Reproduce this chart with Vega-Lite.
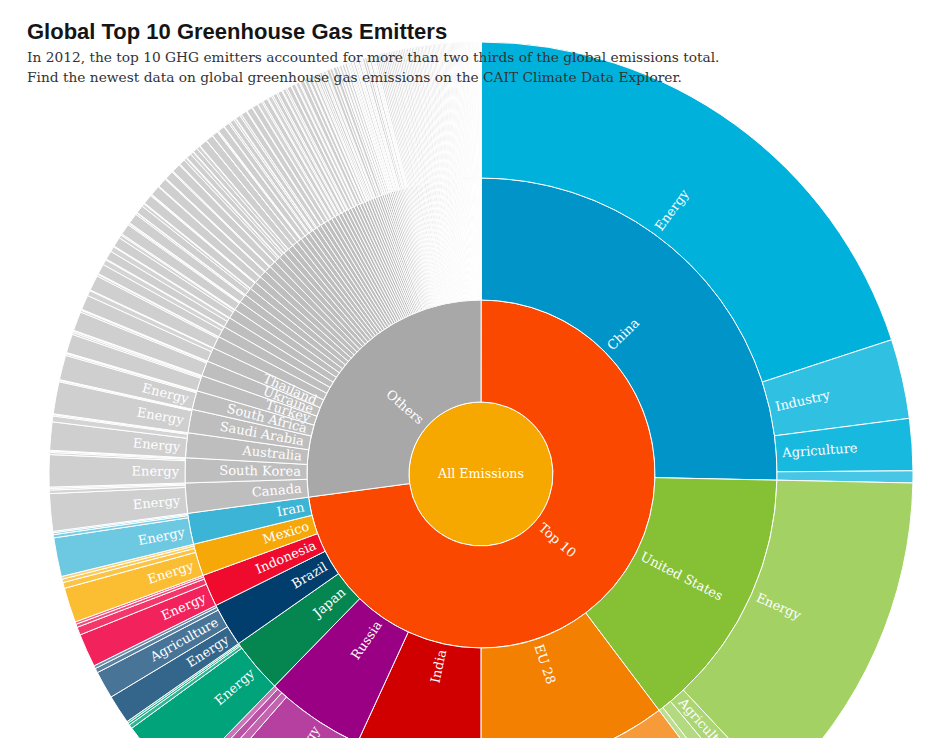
{
"$schema": "https://vega.github.io/schema/vega-lite/v6.json",
"autosize": {"type": "none"},
"width": 920,
"height": 528,
"padding": {"left": 21, "top": 210, "right": 0, "bottom": 0},
"background": "white",
"title": {
  "text": "Global Top 10 Greenhouse Gas Emitters",
  "subtitle": ["In 2012, the top 10 GHG emitters accounted for more than two thirds of the global emissions total.", "Find the newest data on global greenhouse gas emissions on the CAIT Climate Data Explorer."],
  "anchor": "start", "frame": "group", "offset": -46, "dx": 6,
  "font": "Liberation Sans", "fontSize": 22, "fontWeight": "bold", "color": "#151515",
  "subtitleFont": "DejaVu Serif", "subtitleFontSize": 13.75, "subtitleColor": "#333333",
  "subtitleLineHeight": 20, "subtitlePadding": 7
},
"datasets": {"emissions": [
{"group":"Top 10","country":"China","sector":"Energy","value":19.97},
{"group":"Top 10","country":"China","sector":"Industry","value":2.97},
{"group":"Top 10","country":"China","sector":"Agriculture","value":1.94},
{"group":"Top 10","country":"China","sector":"Waste","value":0.45},
{"group":"Top 10","country":"United States","sector":"Energy","value":12.69},
{"group":"Top 10","country":"United States","sector":"Agriculture","value":0.92},
{"group":"Top 10","country":"United States","sector":"Industry","value":0.53},
{"group":"Top 10","country":"United States","sector":"Waste","value":0.25},
{"group":"Top 10","country":"EU 28","sector":"Energy","value":8.3},
{"group":"Top 10","country":"EU 28","sector":"Agriculture","value":1.0},
{"group":"Top 10","country":"EU 28","sector":"Industry","value":0.6},
{"group":"Top 10","country":"EU 28","sector":"Waste","value":0.38},
{"group":"Top 10","country":"India","sector":"Energy","value":4.9},
{"group":"Top 10","country":"India","sector":"Agriculture","value":1.55},
{"group":"Top 10","country":"India","sector":"Industry","value":0.23},
{"group":"Top 10","country":"India","sector":"Waste","value":0.18},
{"group":"Top 10","country":"Russia","sector":"Energy","value":4.55},
{"group":"Top 10","country":"Russia","sector":"Industry","value":0.34},
{"group":"Top 10","country":"Russia","sector":"Agriculture","value":0.3},
{"group":"Top 10","country":"Russia","sector":"Waste","value":0.23},
{"group":"Top 10","country":"Japan","sector":"Energy","value":2.7},
{"group":"Top 10","country":"Japan","sector":"Industry","value":0.15},
{"group":"Top 10","country":"Japan","sector":"Agriculture","value":0.08},
{"group":"Top 10","country":"Japan","sector":"Waste","value":0.07},
{"group":"Top 10","country":"Brazil","sector":"Energy","value":1.08},
{"group":"Top 10","country":"Brazil","sector":"Agriculture","value":1.03},
{"group":"Top 10","country":"Brazil","sector":"Industry","value":0.17},
{"group":"Top 10","country":"Brazil","sector":"Waste","value":0.11},
{"group":"Top 10","country":"Indonesia","sector":"Energy","value":1.25},
{"group":"Top 10","country":"Indonesia","sector":"Agriculture","value":0.3},
{"group":"Top 10","country":"Indonesia","sector":"Industry","value":0.12},
{"group":"Top 10","country":"Indonesia","sector":"Waste","value":0.09},
{"group":"Top 10","country":"Mexico","sector":"Energy","value":1.3},
{"group":"Top 10","country":"Mexico","sector":"Agriculture","value":0.22},
{"group":"Top 10","country":"Mexico","sector":"Industry","value":0.13},
{"group":"Top 10","country":"Mexico","sector":"Waste","value":0.1},
{"group":"Top 10","country":"Iran","sector":"Energy","value":1.45},
{"group":"Top 10","country":"Iran","sector":"Agriculture","value":0.12},
{"group":"Top 10","country":"Iran","sector":"Industry","value":0.07},
{"group":"Top 10","country":"Iran","sector":"Waste","value":0.05},
{"group":"Others","country":"Canada","sector":"Energy","value":1.4},
{"group":"Others","country":"Canada","sector":"Agriculture","value":0.13},
{"group":"Others","country":"Canada","sector":"Industry","value":0.06},
{"group":"Others","country":"Canada","sector":"Waste","value":0.05},
{"group":"Others","country":"South Korea","sector":"Energy","value":1.2},
{"group":"Others","country":"South Korea","sector":"Industry","value":0.08},
{"group":"Others","country":"South Korea","sector":"Agriculture","value":0.05},
{"group":"Others","country":"South Korea","sector":"Waste","value":0.03},
{"group":"Others","country":"Australia","sector":"Energy","value":1.05},
{"group":"Others","country":"Australia","sector":"Agriculture","value":0.22},
{"group":"Others","country":"Australia","sector":"Industry","value":0.05},
{"group":"Others","country":"Australia","sector":"Waste","value":0.03},
{"group":"Others","country":"Saudi Arabia","sector":"Energy","value":1.2},
{"group":"Others","country":"Saudi Arabia","sector":"Industry","value":0.05},
{"group":"Others","country":"Saudi Arabia","sector":"Waste","value":0.02},
{"group":"Others","country":"Saudi Arabia","sector":"Agriculture","value":0.01},
{"group":"Others","country":"South Africa","sector":"Energy","value":0.92},
{"group":"Others","country":"South Africa","sector":"Agriculture","value":0.06},
{"group":"Others","country":"South Africa","sector":"Industry","value":0.03},
{"group":"Others","country":"South Africa","sector":"Waste","value":0.02},
{"group":"Others","country":"Turkey","sector":"Energy","value":0.7},
{"group":"Others","country":"Turkey","sector":"Agriculture","value":0.07},
{"group":"Others","country":"Turkey","sector":"Industry","value":0.06},
{"group":"Others","country":"Turkey","sector":"Waste","value":0.03},
{"group":"Others","country":"Ukraine","sector":"Energy","value":0.72},
{"group":"Others","country":"Ukraine","sector":"Agriculture","value":0.07},
{"group":"Others","country":"Ukraine","sector":"Industry","value":0.02},
{"group":"Others","country":"Ukraine","sector":"Waste","value":0.02},
{"group":"Others","country":"Thailand","sector":"Energy","value":0.55},
{"group":"Others","country":"Thailand","sector":"Agriculture","value":0.2},
{"group":"Others","country":"Thailand","sector":"Industry","value":0.02},
{"group":"Others","country":"Thailand","sector":"Waste","value":0.01},
{"group":"Others","country":"Kazakhstan","sector":"Energy","value":0.57},
{"group":"Others","country":"Kazakhstan","sector":"Agriculture","value":0.07},
{"group":"Others","country":"Kazakhstan","sector":"Industry","value":0.03},
{"group":"Others","country":"Argentina","sector":"Energy","value":0.38},
{"group":"Others","country":"Argentina","sector":"Agriculture","value":0.2},
{"group":"Others","country":"Argentina","sector":"Industry","value":0.03},
{"group":"Others","country":"Pakistan","sector":"Energy","value":0.33},
{"group":"Others","country":"Pakistan","sector":"Agriculture","value":0.2},
{"group":"Others","country":"Pakistan","sector":"Industry","value":0.03},
{"group":"Others","country":"Nigeria","sector":"Energy","value":0.36},
{"group":"Others","country":"Nigeria","sector":"Agriculture","value":0.12},
{"group":"Others","country":"Nigeria","sector":"Waste","value":0.05},
{"group":"Others","country":"Egypt","sector":"Energy","value":0.41},
{"group":"Others","country":"Egypt","sector":"Agriculture","value":0.05},
{"group":"Others","country":"Egypt","sector":"Industry","value":0.04},
{"group":"Others","country":"Venezuela","sector":"Energy","value":0.39},
{"group":"Others","country":"Venezuela","sector":"Agriculture","value":0.06},
{"group":"Others","country":"Venezuela","sector":"Industry","value":0.02},
{"group":"Others","country":"Vietnam","sector":"Energy","value":0.3},
{"group":"Others","country":"Vietnam","sector":"Agriculture","value":0.11},
{"group":"Others","country":"Vietnam","sector":"Industry","value":0.03},
{"group":"Others","country":"Malaysia","sector":"Energy","value":0.36},
{"group":"Others","country":"Malaysia","sector":"Agriculture","value":0.03},
{"group":"Others","country":"Malaysia","sector":"Industry","value":0.03},
{"group":"Others","country":"United Arab Emirates","sector":"Energy","value":0.37},
{"group":"Others","country":"United Arab Emirates","sector":"Industry","value":0.02},
{"group":"Others","country":"United Arab Emirates","sector":"Waste","value":0.01},
{"group":"Others","country":"Algeria","sector":"Energy","value":0.35},
{"group":"Others","country":"Algeria","sector":"Agriculture","value":0.03},
{"group":"Others","country":"Algeria","sector":"Industry","value":0.01},
{"group":"Others","country":"Uzbekistan","sector":"Energy","value":0.32},
{"group":"Others","country":"Uzbekistan","sector":"Agriculture","value":0.04},
{"group":"Others","country":"Uzbekistan","sector":"Industry","value":0.01},
{"group":"Others","country":"Iraq","sector":"Energy","value":0.33},
{"group":"Others","country":"Iraq","sector":"Agriculture","value":0.02},
{"group":"Others","country":"Iraq","sector":"Industry","value":0.01},
{"group":"Others","country":"Philippines","sector":"Energy","value":0.22},
{"group":"Others","country":"Philippines","sector":"Agriculture","value":0.1},
{"group":"Others","country":"Philippines","sector":"Industry","value":0.03},
{"group":"Others","country":"Colombia","sector":"Energy","value":0.19},
{"group":"Others","country":"Colombia","sector":"Agriculture","value":0.12},
{"group":"Others","country":"Colombia","sector":"Industry","value":0.02},
{"group":"Others","country":"Bangladesh","sector":"Energy","value":0.17},
{"group":"Others","country":"Bangladesh","sector":"Agriculture","value":0.13},
{"group":"Others","country":"Bangladesh","sector":"Industry","value":0.02},
{"group":"Others","country":"Kuwait","sector":"Energy","value":0.3},
{"group":"Others","country":"Kuwait","sector":"Industry","value":0.01},
{"group":"Others","country":"Qatar","sector":"Energy","value":0.28},
{"group":"Others","country":"Qatar","sector":"Industry","value":0.01},
{"group":"Others","country":"Chile","sector":"Energy","value":0.22},
{"group":"Others","country":"Chile","sector":"Agriculture","value":0.04},
{"group":"Others","country":"Chile","sector":"Industry","value":0.02},
{"group":"Others","country":"Turkmenistan","sector":"Energy","value":0.25},
{"group":"Others","country":"Turkmenistan","sector":"Agriculture","value":0.02},
{"group":"Others","country":"Peru","sector":"Energy","value":0.17},
{"group":"Others","country":"Peru","sector":"Agriculture","value":0.07},
{"group":"Others","country":"Peru","sector":"Industry","value":0.02},
{"group":"Others","country":"Belarus","sector":"Energy","value":0.2},
{"group":"Others","country":"Belarus","sector":"Agriculture","value":0.06},
{"group":"Others","country":"Morocco","sector":"Energy","value":0.18},
{"group":"Others","country":"Morocco","sector":"Agriculture","value":0.07},
{"group":"Others","country":"Israel","sector":"Energy","value":0.21},
{"group":"Others","country":"Israel","sector":"Agriculture","value":0.03},
{"group":"Others","country":"Oman","sector":"Energy","value":0.22},
{"group":"Others","country":"Oman","sector":"Agriculture","value":0.02},
{"group":"Others","country":"Libya","sector":"Energy","value":0.21},
{"group":"Others","country":"Libya","sector":"Agriculture","value":0.02},
{"group":"Others","country":"Syria","sector":"Energy","value":0.18},
{"group":"Others","country":"Syria","sector":"Agriculture","value":0.04},
{"group":"Others","country":"Ethiopia","sector":"Agriculture","value":0.17},
{"group":"Others","country":"Ethiopia","sector":"Energy","value":0.05},
{"group":"Others","country":"Myanmar","sector":"Agriculture","value":0.15},
{"group":"Others","country":"Myanmar","sector":"Energy","value":0.06},
{"group":"Others","country":"Ecuador","sector":"Energy","value":0.14},
{"group":"Others","country":"Ecuador","sector":"Agriculture","value":0.06},
{"group":"Others","country":"Sudan","sector":"Agriculture","value":0.13},
{"group":"Others","country":"Sudan","sector":"Energy","value":0.06},
{"group":"Others","country":"Serbia","sector":"Energy","value":0.16},
{"group":"Others","country":"Serbia","sector":"Agriculture","value":0.03},
{"group":"Others","country":"Azerbaijan","sector":"Energy","value":0.16},
{"group":"Others","country":"Azerbaijan","sector":"Agriculture","value":0.02},
{"group":"Others","country":"North Korea","sector":"Energy","value":0.15},
{"group":"Others","country":"North Korea","sector":"Agriculture","value":0.03},
{"group":"Others","country":"Tanzania","sector":"Agriculture","value":0.13},
{"group":"Others","country":"Tanzania","sector":"Energy","value":0.04},
{"group":"Others","country":"Trinidad and Tobago","sector":"Energy","value":0.16},
{"group":"Others","country":"Trinidad and Tobago","sector":"Industry","value":0.01},
{"group":"Others","country":"Switzerland","sector":"Energy","value":0.13},
{"group":"Others","country":"Switzerland","sector":"Agriculture","value":0.03},
{"group":"Others","country":"Norway","sector":"Energy","value":0.13},
{"group":"Others","country":"Norway","sector":"Agriculture","value":0.03},
{"group":"Others","country":"Bolivia","sector":"Agriculture","value":0.1},
{"group":"Others","country":"Bolivia","sector":"Energy","value":0.05},
{"group":"Others","country":"New Zealand","sector":"Agriculture","value":0.08},
{"group":"Others","country":"New Zealand","sector":"Energy","value":0.07},
{"group":"Others","country":"Angola","sector":"Energy","value":0.09},
{"group":"Others","country":"Angola","sector":"Agriculture","value":0.05},
{"group":"Others","country":"Singapore","sector":"Energy","value":0.13},
{"group":"Others","country":"Kenya","sector":"Agriculture","value":0.09},
{"group":"Others","country":"Kenya","sector":"Energy","value":0.04},
{"group":"Others","country":"Tunisia","sector":"Energy","value":0.1},
{"group":"Others","country":"Tunisia","sector":"Agriculture","value":0.03},
{"group":"Others","country":"Cuba","sector":"Energy","value":0.09},
{"group":"Others","country":"Cuba","sector":"Agriculture","value":0.03},
{"group":"Others","country":"Bahrain","sector":"Energy","value":0.12},
{"group":"Others","country":"DR Congo","sector":"Agriculture","value":0.09},
{"group":"Others","country":"DR Congo","sector":"Energy","value":0.02},
{"group":"Others","country":"Uganda","sector":"Agriculture","value":0.09},
{"group":"Others","country":"Uganda","sector":"Energy","value":0.02},
{"group":"Others","country":"Yemen","sector":"Energy","value":0.08},
{"group":"Others","country":"Yemen","sector":"Agriculture","value":0.03},
{"group":"Others","country":"Mongolia","sector":"Energy","value":0.05},
{"group":"Others","country":"Mongolia","sector":"Agriculture","value":0.05},
{"group":"Others","country":"Sri Lanka","sector":"Energy","value":0.06},
{"group":"Others","country":"Sri Lanka","sector":"Agriculture","value":0.04},
{"group":"Others","country":"Paraguay","sector":"Agriculture","value":0.075},
{"group":"Others","country":"Paraguay","sector":"Energy","value":0.02},
{"group":"Others","country":"Zimbabwe","sector":"Energy","value":0.05},
{"group":"Others","country":"Zimbabwe","sector":"Agriculture","value":0.042},
{"group":"Others","country":"Dominican Republic","sector":"Energy","value":0.07},
{"group":"Others","country":"Dominican Republic","sector":"Agriculture","value":0.02},
{"group":"Others","country":"Guatemala","sector":"Energy","value":0.05},
{"group":"Others","country":"Guatemala","sector":"Agriculture","value":0.037},
{"group":"Others","country":"Bosnia and Herzegovina","sector":"Energy","value":0.084},
{"group":"Others","country":"Jordan","sector":"Energy","value":0.08},
{"group":"Others","country":"Cameroon","sector":"Agriculture","value":0.048},
{"group":"Others","country":"Cameroon","sector":"Energy","value":0.03},
{"group":"Others","country":"Lebanon","sector":"Energy","value":0.075},
{"group":"Others","country":"Ghana","sector":"Energy","value":0.04},
{"group":"Others","country":"Ghana","sector":"Agriculture","value":0.032},
{"group":"Others","country":"Zambia","sector":"Agriculture","value":0.05},
{"group":"Others","country":"Zambia","sector":"Energy","value":0.02},
{"group":"Others","country":"Mozambique","sector":"Energy","value":0.069},
{"group":"Others","country":"Madagascar","sector":"Energy","value":0.068},
{"group":"Others","country":"Nepal","sector":"Energy","value":0.068},
{"group":"Others","country":"Uruguay","sector":"Energy","value":0.067},
{"group":"Others","country":"Cambodia","sector":"Energy","value":0.066},
{"group":"Others","country":"Kyrgyzstan","sector":"Energy","value":0.066},
{"group":"Others","country":"Tajikistan","sector":"Energy","value":0.065},
{"group":"Others","country":"Macedonia","sector":"Energy","value":0.065},
{"group":"Others","country":"Honduras","sector":"Energy","value":0.064},
{"group":"Others","country":"Georgia","sector":"Energy","value":0.062},
{"group":"Others","country":"Mali","sector":"Energy","value":0.063},
{"group":"Others","country":"Chad","sector":"Energy","value":0.062},
{"group":"Others","country":"Burkina Faso","sector":"Energy","value":0.062},
{"group":"Others","country":"Costa Rica","sector":"Energy","value":0.061},
{"group":"Others","country":"Panama","sector":"Energy","value":0.061},
{"group":"Others","country":"El Salvador","sector":"Energy","value":0.061},
{"group":"Others","country":"Niger","sector":"Energy","value":0.06},
{"group":"Others","country":"Senegal","sector":"Energy","value":0.06},
{"group":"Others","country":"Moldova","sector":"Energy","value":0.06},
{"group":"Others","country":"Botswana","sector":"Energy","value":0.06},
{"group":"Others","country":"Gabon","sector":"Energy","value":0.058},
{"group":"Others","country":"Armenia","sector":"Energy","value":0.057},
{"group":"Others","country":"Nicaragua","sector":"Energy","value":0.056},
{"group":"Others","country":"Brunei","sector":"Energy","value":0.056},
{"group":"Others","country":"Jamaica","sector":"Energy","value":0.055},
{"group":"Others","country":"Namibia","sector":"Energy","value":0.055},
{"group":"Others","country":"Iceland","sector":"Energy","value":0.054},
{"group":"Others","country":"Benin","sector":"Energy","value":0.054},
{"group":"Others","country":"Laos","sector":"Energy","value":0.053},
{"group":"Others","country":"Haiti","sector":"Energy","value":0.052},
{"group":"Others","country":"Albania","sector":"Energy","value":0.052},
{"group":"Others","country":"Guinea","sector":"Energy","value":0.051},
{"group":"Others","country":"Rwanda","sector":"Energy","value":0.051},
{"group":"Others","country":"Malawi","sector":"Energy","value":0.05},
{"group":"Others","country":"Somalia","sector":"Energy","value":0.05},
{"group":"Others","country":"Papua New Guinea","sector":"Energy","value":0.05},
{"group":"Others","country":"Congo","sector":"Energy","value":0.049},
{"group":"Others","country":"Montenegro","sector":"Energy","value":0.049},
{"group":"Others","country":"Equatorial Guinea","sector":"Energy","value":0.048},
{"group":"Others","country":"Côte d'Ivoire","sector":"Energy","value":0.048},
{"group":"Others","country":"Afghanistan","sector":"Energy","value":0.047},
{"group":"Others","country":"Central African Republic","sector":"Energy","value":0.046},
{"group":"Others","country":"Mauritania","sector":"Energy","value":0.046},
{"group":"Others","country":"South Sudan","sector":"Energy","value":0.045},
{"group":"Others","country":"Togo","sector":"Energy","value":0.045},
{"group":"Others","country":"Sierra Leone","sector":"Energy","value":0.045},
{"group":"Others","country":"Liberia","sector":"Energy","value":0.044},
{"group":"Others","country":"Burundi","sector":"Energy","value":0.044},
{"group":"Others","country":"Eritrea","sector":"Energy","value":0.043},
{"group":"Others","country":"Guinea-Bissau","sector":"Energy","value":0.043},
{"group":"Others","country":"Gambia","sector":"Energy","value":0.042},
{"group":"Others","country":"Djibouti","sector":"Energy","value":0.041},
{"group":"Others","country":"Lesotho","sector":"Energy","value":0.04},
{"group":"Others","country":"Swaziland","sector":"Energy","value":0.04},
{"group":"Others","country":"Mauritius","sector":"Energy","value":0.039},
{"group":"Others","country":"Fiji","sector":"Energy","value":0.039},
{"group":"Others","country":"Guyana","sector":"Energy","value":0.038},
{"group":"Others","country":"Suriname","sector":"Energy","value":0.038},
{"group":"Others","country":"Belize","sector":"Energy","value":0.037},
{"group":"Others","country":"Bhutan","sector":"Energy","value":0.037},
{"group":"Others","country":"Bahamas","sector":"Energy","value":0.036},
{"group":"Others","country":"Barbados","sector":"Energy","value":0.035},
{"group":"Others","country":"Cape Verde","sector":"Energy","value":0.035},
{"group":"Others","country":"Comoros","sector":"Energy","value":0.034},
{"group":"Others","country":"Maldives","sector":"Energy","value":0.034},
{"group":"Others","country":"Seychelles","sector":"Energy","value":0.033},
{"group":"Others","country":"Solomon Islands","sector":"Energy","value":0.033},
{"group":"Others","country":"Vanuatu","sector":"Energy","value":0.032},
{"group":"Others","country":"Samoa","sector":"Energy","value":0.032},
{"group":"Others","country":"Tonga","sector":"Energy","value":0.031},
{"group":"Others","country":"Kiribati","sector":"Energy","value":0.03},
{"group":"Others","country":"Micronesia","sector":"Energy","value":0.03},
{"group":"Others","country":"Marshall Islands","sector":"Energy","value":0.029},
{"group":"Others","country":"Palau","sector":"Energy","value":0.029},
{"group":"Others","country":"Nauru","sector":"Energy","value":0.028},
{"group":"Others","country":"Tuvalu","sector":"Energy","value":0.028},
{"group":"Others","country":"Antigua and Barbuda","sector":"Energy","value":0.027},
{"group":"Others","country":"Dominica","sector":"Energy","value":0.027},
{"group":"Others","country":"Grenada","sector":"Energy","value":0.026},
{"group":"Others","country":"Saint Kitts and Nevis","sector":"Energy","value":0.026},
{"group":"Others","country":"Saint Lucia","sector":"Energy","value":0.025},
{"group":"Others","country":"Saint Vincent and the Grenadines","sector":"Energy","value":0.025},
{"group":"Others","country":"Sao Tome and Principe","sector":"Energy","value":0.024},
{"group":"Others","country":"Timor-Leste","sector":"Energy","value":0.023},
{"group":"Others","country":"Andorra","sector":"Energy","value":0.022},
{"group":"Others","country":"Liechtenstein","sector":"Energy","value":0.021},
{"group":"Others","country":"Monaco","sector":"Energy","value":0.02},
{"group":"Others","country":"San Marino","sector":"Energy","value":0.019},
{"group":"Others","country":"Cook Islands","sector":"Energy","value":0.017},
{"group":"Others","country":"Niue","sector":"Energy","value":0.009}
]},
"data": {"name": "emissions"},
"layer": [
{
  "transform": [
    {"aggregate": [{"op": "sum", "field": "value", "as": "value"}]},
    {"stack": "value", "groupby": [], "as": ["start", "end"]}
  ],
  "mark": {"type": "arc", "innerRadius": 0, "outerRadius": 72, "stroke": "#ffffff", "strokeWidth": 1},
  "encoding": {
    "theta": {"field": "start", "type": "quantitative", "stack": null},
    "theta2": {"field": "end"},
    "color": {"value": "#F6A700"}
  }
},
{
  "transform": [
    {"aggregate": [{"op": "sum", "field": "value", "as": "value"}], "groupby": ["group"]},
    {"stack": "value", "groupby": [], "sort": [{"field": "group", "order": "descending"}], "as": ["start", "end"]}
  ],
  "mark": {"type": "arc", "innerRadius": 72, "outerRadius": 174, "stroke": "#ffffff", "strokeWidth": 1},
  "encoding": {
    "theta": {"field": "start", "type": "quantitative", "stack": null},
    "theta2": {"field": "end"},
    "color": {"condition": {"test": "datum.group === 'Others'", "value": "#A8A8A8"}, "value": "#FA4800"}
  }
},
{
  "transform": [
    {"aggregate": [{"op": "sum", "field": "value", "as": "value"}], "groupby": ["group", "country"]},
    {"stack": "value", "groupby": [], "sort": [{"field": "group", "order": "descending"}, {"field": "value", "order": "descending"}, {"field": "country", "order": "ascending"}], "as": ["start", "end"]}
  ],
  "mark": {"type": "arc", "innerRadius": 174, "outerRadius": 296, "stroke": "#ffffff", "strokeWidth": 1},
  "encoding": {
    "theta": {"field": "start", "type": "quantitative", "stack": null},
    "theta2": {"field": "end"},
    "color": {
      "condition": {"test": "datum.group === 'Others'", "value": "#BEBEBE"},
      "field": "country", "type": "nominal", "legend": null,
      "scale": {
        "domain": ["China", "United States", "EU 28", "India", "Russia", "Japan", "Brazil", "Indonesia", "Mexico", "Iran"],
        "range": ["#0094C9", "#86C135", "#F38000", "#D10000", "#9A0083", "#05854F", "#023E6D", "#EE0B2E", "#F6A808", "#3BB4D5"]
      }
    }
  }
},
{
  "transform": [
    {"joinaggregate": [{"op": "sum", "field": "value", "as": "ctotal"}], "groupby": ["group", "country"]},
    {"stack": "value", "groupby": [], "sort": [{"field": "group", "order": "descending"}, {"field": "ctotal", "order": "descending"}, {"field": "country", "order": "ascending"}, {"field": "value", "order": "descending"}, {"field": "sector", "order": "ascending"}], "as": ["start", "end"]}
  ],
  "mark": {"type": "arc", "innerRadius": 296, "outerRadius": 432, "stroke": "#ffffff", "strokeWidth": 1},
  "encoding": {
    "theta": {"field": "start", "type": "quantitative", "stack": null},
    "theta2": {"field": "end"},
    "fill": {
      "condition": {"test": "datum.group === 'Others'", "value": "#CFCFCF"},
      "field": "country", "type": "nominal", "legend": null,
      "scale": {
        "domain": ["China", "United States", "EU 28", "India", "Russia", "Japan", "Brazil", "Indonesia", "Mexico", "Iran"],
        "range": ["#00B2DB", "#A3D164", "#F79A3A", "#E33B3B", "#B5409F", "#00A37A", "#34668C", "#F2225C", "#FBBE33", "#6DC8E2"]
      }
    },
    "fillOpacity": {
      "field": "sector", "type": "nominal", "legend": null,
      "scale": {"domain": ["Energy", "Agriculture", "Industry", "Waste"], "range": [1, 0.72, 0.5, 0.35]}
    }
  }
},
{
  "transform": [
    {"aggregate": [{"op": "sum", "field": "value", "as": "value"}]},
    {"stack": "value", "groupby": [], "as": ["start", "end"]}
  ],
  "mark": {"type": "text", "radius": 0, "font": "DejaVu Serif", "fontSize": 12.7, "fill": "#ffffff", "align": "center", "baseline": "middle"},
  "encoding": {
    "theta": {"field": "start", "type": "quantitative", "stack": null},
    "text": {"value": "All Emissions"}
  }
},
{
  "transform": [
    {"aggregate": [{"op": "sum", "field": "value", "as": "value"}], "groupby": ["group"]},
    {"stack": "value", "groupby": [], "sort": [{"field": "group", "order": "descending"}], "as": ["start", "end"]},
    {"joinaggregate": [{"op": "max", "field": "end", "as": "total"}]},
    {"calculate": "(datum.start + datum.end) / 2", "as": "mid"},
    {"calculate": "180 * (datum.start + datum.end) / datum.total", "as": "deg"},
    {"filter": "datum.deg < 180"},
    {"calculate": "datum.deg - 90", "as": "rot"}
  ],
  "mark": {"type": "text", "radius": 79, "font": "DejaVu Serif", "fontSize": 13, "fill": "#ffffff", "align": "left", "baseline": "middle"},
  "encoding": {
    "theta": {"field": "mid", "type": "quantitative", "stack": null},
    "angle": {"field": "rot", "type": "quantitative", "scale": null},
    "text": {"field": "group"}
  }
},
{
  "transform": [
    {"aggregate": [{"op": "sum", "field": "value", "as": "value"}], "groupby": ["group"]},
    {"stack": "value", "groupby": [], "sort": [{"field": "group", "order": "descending"}], "as": ["start", "end"]},
    {"joinaggregate": [{"op": "max", "field": "end", "as": "total"}]},
    {"calculate": "(datum.start + datum.end) / 2", "as": "mid"},
    {"calculate": "180 * (datum.start + datum.end) / datum.total", "as": "deg"},
    {"filter": "datum.deg >= 180"},
    {"calculate": "datum.deg - 270", "as": "rot"}
  ],
  "mark": {"type": "text", "radius": 79, "font": "DejaVu Serif", "fontSize": 13, "fill": "#ffffff", "align": "right", "baseline": "middle"},
  "encoding": {
    "theta": {"field": "mid", "type": "quantitative", "stack": null},
    "angle": {"field": "rot", "type": "quantitative", "scale": null},
    "text": {"field": "group"}
  }
},
{
  "transform": [
    {"aggregate": [{"op": "sum", "field": "value", "as": "value"}], "groupby": ["group", "country"]},
    {"stack": "value", "groupby": [], "sort": [{"field": "group", "order": "descending"}, {"field": "value", "order": "descending"}, {"field": "country", "order": "ascending"}], "as": ["start", "end"]},
    {"joinaggregate": [{"op": "max", "field": "end", "as": "total"}]},
    {"calculate": "(datum.start + datum.end) / 2", "as": "mid"},
    {"calculate": "180 * (datum.start + datum.end) / datum.total", "as": "deg"},
    {"filter": "datum.value > 0.7 && datum.deg < 180"},
    {"calculate": "datum.deg - 90", "as": "rot"}
  ],
  "mark": {"type": "text", "radius": 180, "font": "DejaVu Serif", "fontSize": 13, "fill": "#ffffff", "align": "left", "baseline": "middle"},
  "encoding": {
    "theta": {"field": "mid", "type": "quantitative", "stack": null},
    "angle": {"field": "rot", "type": "quantitative", "scale": null},
    "text": {"field": "country"}
  }
},
{
  "transform": [
    {"aggregate": [{"op": "sum", "field": "value", "as": "value"}], "groupby": ["group", "country"]},
    {"stack": "value", "groupby": [], "sort": [{"field": "group", "order": "descending"}, {"field": "value", "order": "descending"}, {"field": "country", "order": "ascending"}], "as": ["start", "end"]},
    {"joinaggregate": [{"op": "max", "field": "end", "as": "total"}]},
    {"calculate": "(datum.start + datum.end) / 2", "as": "mid"},
    {"calculate": "180 * (datum.start + datum.end) / datum.total", "as": "deg"},
    {"filter": "datum.value > 0.7 && datum.deg >= 180"},
    {"calculate": "datum.deg - 270", "as": "rot"}
  ],
  "mark": {"type": "text", "radius": 180, "font": "DejaVu Serif", "fontSize": 13, "fill": "#ffffff", "align": "right", "baseline": "middle"},
  "encoding": {
    "theta": {"field": "mid", "type": "quantitative", "stack": null},
    "angle": {"field": "rot", "type": "quantitative", "scale": null},
    "text": {"field": "country"}
  }
},
{
  "transform": [
    {"joinaggregate": [{"op": "sum", "field": "value", "as": "ctotal"}], "groupby": ["group", "country"]},
    {"stack": "value", "groupby": [], "sort": [{"field": "group", "order": "descending"}, {"field": "ctotal", "order": "descending"}, {"field": "country", "order": "ascending"}, {"field": "value", "order": "descending"}, {"field": "sector", "order": "ascending"}], "as": ["start", "end"]},
    {"joinaggregate": [{"op": "max", "field": "end", "as": "total"}]},
    {"calculate": "(datum.start + datum.end) / 2", "as": "mid"},
    {"calculate": "180 * (datum.start + datum.end) / datum.total", "as": "deg"},
    {"filter": "datum.value > 0.8 && datum.deg < 180"},
    {"calculate": "datum.deg - 90", "as": "rot"}
  ],
  "mark": {"type": "text", "radius": 302, "font": "DejaVu Serif", "fontSize": 13, "fill": "#ffffff", "align": "left", "baseline": "middle"},
  "encoding": {
    "theta": {"field": "mid", "type": "quantitative", "stack": null},
    "angle": {"field": "rot", "type": "quantitative", "scale": null},
    "text": {"field": "sector"}
  }
},
{
  "transform": [
    {"joinaggregate": [{"op": "sum", "field": "value", "as": "ctotal"}], "groupby": ["group", "country"]},
    {"stack": "value", "groupby": [], "sort": [{"field": "group", "order": "descending"}, {"field": "ctotal", "order": "descending"}, {"field": "country", "order": "ascending"}, {"field": "value", "order": "descending"}, {"field": "sector", "order": "ascending"}], "as": ["start", "end"]},
    {"joinaggregate": [{"op": "max", "field": "end", "as": "total"}]},
    {"calculate": "(datum.start + datum.end) / 2", "as": "mid"},
    {"calculate": "180 * (datum.start + datum.end) / datum.total", "as": "deg"},
    {"filter": "datum.value > 0.8 && datum.deg >= 180"},
    {"calculate": "datum.deg - 270", "as": "rot"}
  ],
  "mark": {"type": "text", "radius": 302, "font": "DejaVu Serif", "fontSize": 13, "fill": "#ffffff", "align": "right", "baseline": "middle"},
  "encoding": {
    "theta": {"field": "mid", "type": "quantitative", "stack": null},
    "angle": {"field": "rot", "type": "quantitative", "scale": null},
    "text": {"field": "sector"}
  }
}
],
"config": {"view": {"stroke": null}}
}
